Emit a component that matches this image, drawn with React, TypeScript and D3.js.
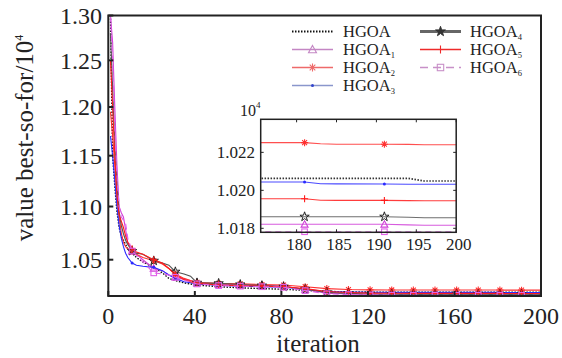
import React from "react";
import * as d3 from "d3";

// iteration grid shared by all series (best-so-far values, x10^4)
const iterations = [1, 2, 3, 4, 5, 6, 7, 8, 9, 11, 13, 16, 21, 25, 28, 31, 35, 38, 41, 51, 61, 71, 81, 91, 101, 111, 121, 131, 141, 151, 161, 171, 181, 183, 185, 191, 194, 196, 200];

const hgoa = [1.3, 1.15, 1.12, 1.095, 1.08, 1.072, 1.068, 1.064, 1.06, 1.056, 1.052, 1.048, 1.043, 1.038, 1.033, 1.031, 1.029, 1.028, 1.027, 1.0255, 1.0245, 1.0238, 1.0232, 1.0222, 1.0213, 1.0209, 1.0207, 1.02063, 1.02063, 1.02063, 1.02063, 1.02063, 1.02063, 1.02063, 1.02063, 1.02063, 1.02063, 1.02049, 1.02049];
const hgoa1 = [1.3, 1.27, 1.2, 1.14, 1.1, 1.094, 1.09, 1.078, 1.066, 1.058, 1.055, 1.05, 1.042, 1.04, 1.036, 1.034, 1.032, 1.031, 1.029, 1.0275, 1.027, 1.0265, 1.026, 1.023, 1.0198, 1.019, 1.0185, 1.0183, 1.01821, 1.01821, 1.01821, 1.01821, 1.01821, 1.01821, 1.01821, 1.01821, 1.01818, 1.01816, 1.01816];
const hgoa2 = [1.195, 1.17, 1.14, 1.11, 1.09, 1.075, 1.066, 1.062, 1.06, 1.058, 1.055, 1.052, 1.049, 1.046, 1.042, 1.037, 1.033, 1.031, 1.0295, 1.0285, 1.028, 1.0275, 1.027, 1.0255, 1.0238, 1.023, 1.0227, 1.0226, 1.0225, 1.02251, 1.02251, 1.02251, 1.02251, 1.02245, 1.02243, 1.02243, 1.02242, 1.0224, 1.0224];
const hgoa3 = [1.17, 1.15, 1.125, 1.1, 1.082, 1.07, 1.062, 1.056, 1.052, 1.047, 1.045, 1.044, 1.043, 1.04, 1.036, 1.033, 1.03, 1.029, 1.028, 1.0268, 1.026, 1.0255, 1.025, 1.0232, 1.0212, 1.0207, 1.0205, 1.02044, 1.02044, 1.02044, 1.02044, 1.02044, 1.02044, 1.02035, 1.02034, 1.02033, 1.02032, 1.02032, 1.02032];
const hgoa4 = [1.28, 1.22, 1.16, 1.12, 1.095, 1.082, 1.074, 1.068, 1.064, 1.058, 1.056, 1.055, 1.049, 1.047, 1.045, 1.039, 1.037, 1.035, 1.029, 1.0285, 1.0275, 1.0265, 1.0255, 1.0232, 1.0205, 1.0195, 1.019, 1.0188, 1.01861, 1.01861, 1.01861, 1.01861, 1.01861, 1.01861, 1.01861, 1.01861, 1.01858, 1.01856, 1.01856];
const hgoa5 = [1.25, 1.2, 1.15, 1.11, 1.092, 1.086, 1.08, 1.072, 1.066, 1.06, 1.057, 1.055, 1.05, 1.047, 1.042, 1.036, 1.032, 1.03, 1.0285, 1.027, 1.0265, 1.026, 1.0255, 1.0238, 1.0212, 1.0203, 1.0198, 1.0196, 1.01956, 1.01956, 1.01956, 1.01956, 1.01956, 1.01948, 1.01947, 1.01947, 1.01946, 1.01945, 1.01945];
const hgoa6 = [1.3, 1.25, 1.18, 1.13, 1.1, 1.09, 1.087, 1.084, 1.07, 1.058, 1.054, 1.048, 1.038, 1.037, 1.036, 1.034, 1.031, 1.03, 1.028, 1.0265, 1.026, 1.0255, 1.025, 1.022, 1.0192, 1.0185, 1.0181, 1.0179, 1.01782, 1.01782, 1.01782, 1.01782, 1.01782, 1.01782, 1.01782, 1.01782, 1.01782, 1.01782, 1.01782];

const mainXTicks = [0, 40, 80, 120, 160, 200];
const mainYTicks = [1.05, 1.1, 1.15, 1.2, 1.25, 1.3];
const insetXTicks = [180, 185, 190, 195, 200];
const insetYTicks = [1.018, 1.02, 1.022];

type Mk = "none" | "tri" | "ast" | "dot" | "star" | "plus" | "sq";
interface Series { name: string; sub: string; values: number[]; color: string; legendColor: string; width: number; dash?: string; marker: Mk; }

const series: Series[] = [
  { name: "HGOA", sub: "", values: hgoa, color: "#111", legendColor: "#111", width: 1.4, dash: "1.5,1.5", marker: "none" },
  { name: "HGOA", sub: "1", values: hgoa1, color: "#d040d8", legendColor: "#c486c4", width: 1.1, marker: "tri" },
  { name: "HGOA", sub: "2", values: hgoa2, color: "#ff3030", legendColor: "#ee6a6a", width: 1.1, marker: "ast" },
  { name: "HGOA", sub: "3", values: hgoa3, color: "#2a2aff", legendColor: "#8a96cc", width: 1.1, marker: "dot" },
  { name: "HGOA", sub: "4", values: hgoa4, color: "#555", legendColor: "#666", width: 1.2, marker: "star" },
  { name: "HGOA", sub: "5", values: hgoa5, color: "#ff1a1a", legendColor: "#ee2a2a", width: 1.1, marker: "plus" },
  { name: "HGOA", sub: "6", values: hgoa6, color: "#e060e8", legendColor: "#c890c8", width: 1.1, dash: "6,4", marker: "sq" },
];

const FONT = "'Liberation Serif', 'Times New Roman', serif";

function Marker({ kind, x, y, color, s = 4 }: { kind: Mk; x: number; y: number; color: string; s?: number }) {
  if (kind === "none") return null;
  if (kind === "tri")
    return <path d={`M${x},${y - s}L${x + s},${y + s * 0.8}L${x - s},${y + s * 0.8}Z`} fill="none" stroke={color} strokeWidth={1.1} />;
  if (kind === "sq") return <rect x={x - s * 0.8} y={y - s * 0.8} width={s * 1.6} height={s * 1.6} fill="none" stroke={color} strokeWidth={1.1} />;
  if (kind === "dot") return <circle cx={x} cy={y} r={1.5} fill={color} />;
  if (kind === "plus")
    return <path d={`M${x - s},${y}H${x + s}M${x},${y - s}V${y + s}`} stroke={color} strokeWidth={1.1} />;
  if (kind === "ast") {
    const a = s * 0.7;
    return <path d={`M${x - s},${y}H${x + s}M${x},${y - s}V${y + s}M${x - a},${y - a}L${x + a},${y + a}M${x - a},${y + a}L${x + a},${y - a}`} stroke={color} strokeWidth={1.1} />;
  }
  const star = d3.symbol(d3.symbolStar, s * s * 2.2)();
  return <path d={star || ""} transform={`translate(${x},${y})`} fill="none" stroke="#222" strokeWidth={1} />;
}

export default function App() {
  const W = 562, H = 358;
  const m = { left: 108.3, right: 541, top: 15.5, bottom: 296 };
  const x = d3.scaleLinear().domain([0, 200]).range([m.left, m.right]);
  const y = d3.scaleLog().domain([1.0172, 1.3]).range([m.bottom, m.top]);

  const ins = { left: 260.7, right: 456.2, top: 119.3, bottom: 232.3 };
  const ix = d3.scaleLinear().domain([175.5, 200]).range([ins.left, ins.right]);
  const iy = d3.scaleLinear().domain([1.01779, 1.02374]).range([ins.bottom, ins.top]);

  const isMarker = (it: number) => it > 1 && (it - 1) % 10 === 0;

  const mainLine = d3.line<number>().x((_, i) => x(iterations[i])).y((v) => y(v));
  const insetLine = d3.line<number>().x((_, i) => ix(iterations[i])).y((v) => iy(v));

  const legendRows = [
    { col: 0, row: 0 }, { col: 0, row: 1 }, { col: 0, row: 2 }, { col: 0, row: 3 },
    { col: 1, row: 0 }, { col: 1, row: 1 }, { col: 1, row: 2 },
  ];

  return (
    <svg width={W} height={H} style={{ position: "absolute", left: 0, top: 0, background: "#fff" }} fontFamily={FONT}>
      <defs>
        <clipPath id="mainClip"><rect x={m.left} y={m.top} width={m.right - m.left} height={m.bottom - m.top} /></clipPath>
        <clipPath id="insClip"><rect x={ins.left} y={ins.top} width={ins.right - ins.left} height={ins.bottom - ins.top} /></clipPath>
      </defs>

      {/* main curves */}
      <g clipPath="url(#mainClip)">
        {series.map((s, k) => (
          <g key={k}>
            <path d={mainLine(s.values) || ""} fill="none" stroke={s.color} strokeWidth={s.width} strokeDasharray={s.dash} />
            {s.values.map((v, i) =>
              isMarker(iterations[i]) ? <Marker key={i} kind={s.marker} x={x(iterations[i])} y={y(v)} color={s.color} s={3.5} /> : null
            )}
          </g>
        ))}
      </g>

      {/* main axes */}
      <rect x={m.left} y={m.top} width={m.right - m.left} height={m.bottom - m.top} fill="none" stroke="#222" strokeWidth={2} />
      {mainXTicks.map((t) => (
        <g key={t}>
          <line x1={x(t)} x2={x(t)} y1={m.bottom} y2={m.bottom - 5} stroke="#222" strokeWidth={2} />
          <text x={x(t)} y={323.5} textAnchor="middle" fontSize={24} fill="#222">{t}</text>
        </g>
      ))}
      {mainYTicks.map((t) => (
        <g key={t}>
          <line x1={m.left} x2={m.left + 5} y1={y(t)} y2={y(t)} stroke="#222" strokeWidth={2} />
          <text x={102} y={y(t)} dy="0.35em" textAnchor="end" fontSize={24} fill="#222">{t.toFixed(2)}</text>
        </g>
      ))}
      <text x={318} y={352} textAnchor="middle" fontSize={25} fill="#222">iteration</text>
      <text transform="translate(33,138) rotate(-90)" textAnchor="middle" fontSize={25} fill="#222">
        value best-so-for/10<tspan dy={-10} fontSize={12}>4</tspan>
      </text>

      {/* legend */}
      {series.map((s, k) => {
        const p = legendRows[k];
        const lx = p.col === 0 ? 292 : 420;
        const tx = p.col === 0 ? 343 : 470;
        const base = 37 + p.row * 18;
        const ly = base - 5.5;
        return (
          <g key={k}>
            <line x1={lx} x2={lx + 41} y1={ly} y2={ly} stroke={s.legendColor} strokeWidth={s.marker === "star" ? 3 : s.width + 0.4} strokeDasharray={s.dash === "6,4" ? "8,5" : s.dash} />
            {s.marker === "star" ? (
              <path d={d3.symbol(d3.symbolStar, 30)() || ""} transform={`translate(${lx + 20.5},${ly})`} fill="#333" stroke="#333" />
            ) : (
              <Marker kind={s.marker} x={lx + 20.5} y={ly} color={s.marker === "dot" ? "#3344cc" : s.legendColor} s={4} />
            )}
            <text x={tx} y={base} fontSize={16.5} fill="#222">
              {s.name}
              {s.sub && <tspan dy={2.5} fontSize={8.5}>{s.sub}</tspan>}
            </text>
          </g>
        );
      })}

      {/* inset */}
      <rect x={ins.left} y={ins.top} width={ins.right - ins.left} height={ins.bottom - ins.top} fill="#fff" />
      <g clipPath="url(#insClip)">
        {series.map((s, k) => (
          <g key={k}>
            <path d={insetLine(s.values) || ""} fill="none" stroke={s.color} strokeWidth={s.marker === "none" ? 1.6 : 1.1} strokeDasharray={s.marker === "none" ? "1.5,1.5" : s.dash} opacity={0.85} />
          </g>
        ))}
      </g>
      {series.map((s, k) => (
        <g key={k}>
          {s.values.map((v, i) =>
            isMarker(iterations[i]) && iterations[i] >= 176 ? <Marker key={i} kind={s.marker} x={ix(iterations[i])} y={iy(v)} color={s.color} s={3.5} /> : null
          )}
        </g>
      ))}
      <rect x={ins.left} y={ins.top} width={ins.right - ins.left} height={ins.bottom - ins.top} fill="none" stroke="#222" strokeWidth={1.5} />
      {insetXTicks.map((t) => (
        <g key={t}>
          <line x1={ix(t)} x2={ix(t)} y1={ins.bottom} y2={ins.bottom - 3} stroke="#222" />
          <line x1={ix(t)} x2={ix(t)} y1={ins.top} y2={ins.top + 3} stroke="#222" />
          <text x={ix(t) + 2.5} y={250} textAnchor="middle" fontSize={17} fill="#222">{t}</text>
        </g>
      ))}
      {insetYTicks.map((t) => (
        <g key={t}>
          <line x1={ins.left} x2={ins.left + 3} y1={iy(t)} y2={iy(t)} stroke="#222" />
          <line x1={ins.right} x2={ins.right - 3} y1={iy(t)} y2={iy(t)} stroke="#222" />
          <text x={255} y={iy(t)} dy="0.35em" textAnchor="end" fontSize={17} fill="#222">{t.toFixed(3)}</text>
        </g>
      ))}
      <text x={240} y={116} fontSize={16} fill="#222">
        10<tspan dy={-8} fontSize={9}>4</tspan>
      </text>
    </svg>
  );
}
